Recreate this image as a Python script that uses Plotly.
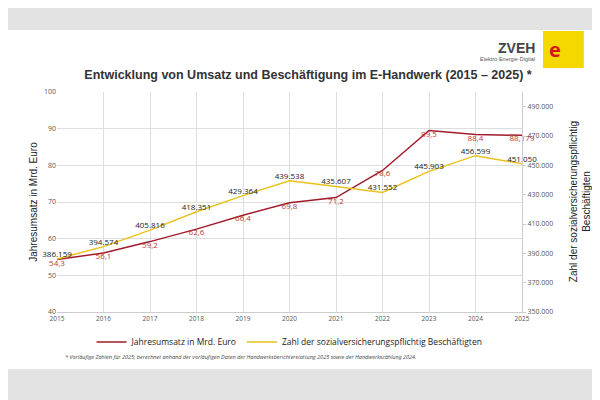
import plotly.graph_objects as go

years = [2015, 2016, 2017, 2018, 2019, 2020, 2021, 2022, 2023, 2024, 2025]
umsatz = [54.3, 56.1, 59.2, 62.6, 66.4, 69.8, 71.2, 78.6, 89.5, 88.4, 88.179]
umsatz_labels = ["54,3", "56,1", "59,2", "62,6", "66,4", "69,8", "71,2", "78,6", "89,5", "88,4", "88,179"]
besch = [386159, 394574, 405816, 418351, 429364, 439538, 435607, 431552, 445903, 456599, 451050]
besch_labels = ["386.159", "394.574", "405.816", "418.351", "429.364", "439.538", "435.607", "431.552", "445.903", "456.599", "451.050"]
right_ticks = [350000, 370000, 390000, 410000, 430000, 450000, 470000, 490000]
right_labels = ["350.000", "370.000", "390.000", "410.000", "430.000", "450.000", "470.000", "490.000"]

RED = "#a01b2a"
YEL = "#e8c21a"
F = "Open Sans"
A = "Liberation Sans"

fig = go.Figure()
fig.add_trace(go.Scatter(x=years, y=umsatz, mode="lines+text", name="Jahresumsatz in Mrd. Euro",
                         line=dict(color=RED, width=1.5), text=umsatz_labels, cliponaxis=False,
                         textposition="bottom center", textfont=dict(color="#c0392b", size=8, family=F)))
fig.add_trace(go.Scatter(x=years, y=besch, mode="lines+text", yaxis="y2",
                         name="Zahl der sozialversicherungspflichtig Beschäftigten", cliponaxis=False,
                         line=dict(color=YEL, width=1.5), text=besch_labels,
                         textposition="top center", textfont=dict(color="#222", size=8, family=F)))

fig.add_shape(type="rect", xref="paper", yref="paper", x0=-0.3, x1=1.4, y0=-0.259, y1=1.282,
              fillcolor="white", line_width=0, layer="below")

fig.update_layout(
    width=600, height=400, paper_bgcolor="#e3e3e3", plot_bgcolor="white",
    margin=dict(l=49, r=86, t=84, b=96),
    font=dict(family=F, size=8, color="#555"),
    title=dict(text="<b>Entwicklung von Umsatz und Beschäftigung im E-Handwerk (2015 – 2025) *</b>",
               x=0.5, xanchor="center", y=0.8325, yanchor="middle", font=dict(size=12.5, color="#333", family=A)),
    xaxis=dict(range=[2015, 2025], dtick=1, showgrid=True, gridcolor="#dddddd", zeroline=False,
               showline=True, linecolor="#ccc", tickfont=dict(size=6.5), automargin=False),
    yaxis=dict(range=[40, 100], dtick=10, gridcolor="#dddddd", zeroline=False, automargin=False,
               title=dict(text="Jahresumsatz in Mrd. Euro", font=dict(size=10, color="#222", family=A), standoff=4),
               tickfont=dict(size=7)),
    yaxis2=dict(range=[350000, 500000], overlaying="y", side="right", tickvals=right_ticks,
                ticktext=right_labels, showgrid=False, zeroline=False, showline=True, linecolor="#ccc",
                tickfont=dict(size=7), ticks="outside", ticklen=3, tickcolor="#ccc", automargin=False),
    legend=dict(orientation="h", x=0.5, xanchor="center", y=-0.136, yanchor="middle",
                font=dict(size=8.5, color="#222"), bgcolor="rgba(0,0,0,0)"),
    showlegend=True,
)

fig.add_annotation(text="Zahl der sozialversicherungspflichtig<br>Beschäftigten", textangle=-90,
                   xref="paper", yref="paper", x=1.125, y=0.5, xanchor="center", yanchor="middle",
                   showarrow=False, font=dict(size=10, color="#222", family=A))
fig.add_annotation(text="<i>* Vorläufige Zahlen für 2025; berechnet anhand der vorläufigen Daten der Handwerksberichterstattung 2025 sowie der Handwerkszählung 2024.</i>",
                   xref="paper", yref="paper", x=0.013, y=-0.205, xanchor="left", yanchor="middle",
                   showarrow=False, font=dict(size=5.5, color="#444"))
fig.add_annotation(text="<b>ZVEH</b>", xref="paper", yref="paper", x=1.032, y=1.2, xanchor="right",
                   yanchor="middle", showarrow=False, font=dict(size=14, color="#444", family=A))
fig.add_annotation(text="Elektro·Energie·Digital", xref="paper", yref="paper", x=1.032, y=1.148, xanchor="right",
                   yanchor="middle", showarrow=False, font=dict(size=5.5, color="#555", family=A))
fig.add_shape(type="rect", xref="paper", yref="paper", x0=1.045, x1=1.133, y0=1.109, y1=1.277,
              fillcolor="#f5d800", line_width=0)
fig.add_annotation(text="<b>e</b>", xref="paper", yref="paper", x=1.089, y=1.193, showarrow=False,
                   yanchor="middle", font=dict(size=20, color="#d4161c"))

fig.write_html("out.html")
